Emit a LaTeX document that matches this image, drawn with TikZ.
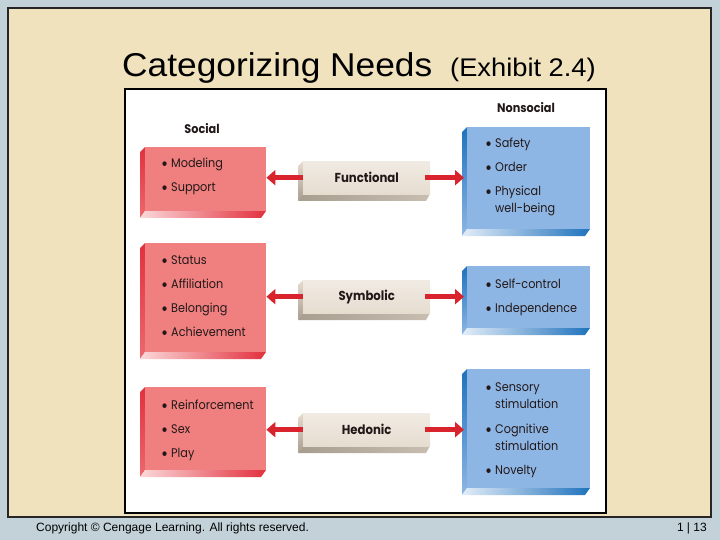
\documentclass[tikz,border=0pt]{standalone}
\usepackage{fontspec}
\setmainfont{Liberation Sans}
\newfontfamily\titlefont[FakeStretch=1.07]{Liberation Sans}
\newfontfamily\fut[FakeStretch=0.9]{Poppins}
\usetikzlibrary{arrows.meta}
\definecolor{bgblue}{HTML}{C3D2D8}
\definecolor{beige}{HTML}{F1E2BE}
\definecolor{redface}{HTML}{F08080}
\definecolor{reddark}{HTML}{E2303E}
\definecolor{blueface}{HTML}{8EB6E4}
\definecolor{bluedark}{HTML}{1F72BC}
\definecolor{midface}{HTML}{E6DDD0}
\definecolor{middark}{HTML}{A89E90}
\definecolor{arrowred}{HTML}{D9232D}
\definecolor{txt}{HTML}{221818}
\newcommand\redbox[5]{%
  \shade[top color=reddark, bottom color=redface!70!reddark] ({#2},{#3+5}) -- ({#2+5},{#3}) -- ({#2+5},{#5-7}) -- ({#2},{#5}) -- cycle;
  \shade[left color=redface!30!white, right color=reddark] ({#2},{#5}) -- ({#2+5},{#5-7}) -- ({#4},{#5-7}) -- ({#4-5},{#5}) -- cycle;
  \node[fill=redface, anchor=north west, inner sep=0, minimum width={#4-#2-5}, minimum height={#5-#3-7}] (#1) at ({#2+5},{#3}) {};}
\newcommand\bluebox[5]{%
  \shade[top color=bluedark, bottom color=blueface] ({#2},{#3+5}) -- ({#2+5},{#3}) -- ({#2+5},{#5-7}) -- ({#2},{#5}) -- cycle;
  \shade[left color=blueface!25!white, right color=bluedark] ({#2},{#5}) -- ({#2+5},{#5-7}) -- ({#4},{#5-7}) -- ({#4-5},{#5}) -- cycle;
  \node[fill=blueface, anchor=north west, inner sep=0, minimum width={#4-#2-5}, minimum height={#5-#3-7}] (#1) at ({#2+5},{#3}) {};}
\newcommand\midbox[6]{%
  \shade[top color=midface, bottom color=middark] ({#2},{#3+5}) -- ({#2+5},{#3}) -- ({#2+5},{#5-7}) -- ({#2},{#5}) -- cycle;
  \shade[left color=middark, right color=midface!50!middark] ({#2},{#5}) -- ({#2+5},{#5-7}) -- ({#4},{#5-7}) -- ({#4-4},{#5}) -- cycle;
  \node[top color=midface!60!white, bottom color=midface, anchor=north west, inner sep=0, minimum width={#4-#2-5}, minimum height={#5-#3-7}, font=\fut\bfseries\fontsize{13}{15}\selectfont, text=txt] (#1) at ({#2+5},{#3}) {#6};}
\tikzset{
  itm/.style={anchor=base west, inner sep=0, font=\fut\fontsize{12.5}{14}\selectfont, text=txt},
  hdr/.style={inner sep=0, font=\fut\bfseries\fontsize{12.5}{14}\selectfont, text=txt},
  redarrow/.style={draw=arrowred, line width=4.5pt, -{Triangle[length=9pt,width=15pt]}},
}
\newcommand\bul{\llap{\fontsize{19}{19}\selectfont\raisebox{-3pt}{•}\hspace{3pt}}}
\begin{document}
\begin{tikzpicture}[x=1pt,y=-1pt]
\useasboundingbox (0,0) rectangle (720,540);
\fill[bgblue] (0,0) rectangle (720,540);
\fill[beige, draw=black!85, line width=1.5pt] (8,8) rectangle (711,517);
\node[anchor=base west, inner sep=0, font=\titlefont\fontsize{33}{36}\selectfont] (title) at (122,77) {Categorizing Needs};
\node[anchor=base west, inner sep=0, font=\titlefont\fontsize{25.5}{28}\selectfont] (exhibit) at (450,77) {(Exhibit 2.4)};
\fill[white, draw=black, line width=2pt] (125,89) rectangle (606,513);
\node[hdr] (social) at (202,129) {Social};
\node[hdr] (nonsocial) at (526,108) {Nonsocial};
% red boxes
\redbox{r1}{140}{147}{266}{218}
\redbox{r2}{140}{243}{266}{359}
\redbox{r3}{140}{387}{266}{477}
% blue boxes
\bluebox{b1}{462}{127}{590}{236}
\bluebox{b2}{462}{266}{590}{335}
\bluebox{b3}{462}{369}{590}{495}
% middle boxes
\midbox{m1}{298}{161}{430}{201}{Functional}
\midbox{m2}{298}{280}{430}{320}{Symbolic}
\midbox{m3}{298}{413}{430}{453}{Hedonic}
% arrows
\draw[redarrow] (m1.west) -- (m1.west -| r1.east);
\draw[redarrow] ([xshift=-5pt]m1.east) -- ([xshift=-3pt]m1.east -| b1.west);
\draw[redarrow] (m2.west) -- (m2.west -| r2.east);
\draw[redarrow] ([xshift=-5pt]m2.east) -- ([xshift=-3pt]m2.east -| b2.west);
\draw[redarrow] (m3.west) -- (m3.west -| r3.east);
\draw[redarrow] ([xshift=-5pt]m3.east) -- ([xshift=-3pt]m3.east -| b3.west);
% red texts
\node[itm] (t1) at (171,168) {\bul Modeling};
\node[itm] (t2) at (171,192) {\bul Support};
\node[itm] (t3) at (171,264) {\bul Status};
\node[itm] (t4) at (171,288) {\bul Affiliation};
\node[itm] (t5) at (171,312) {\bul Belonging};
\node[itm] (t6) at (171,336) {\bul Achievement};
\node[itm] (t7) at (171,409) {\bul Reinforcement};
\node[itm] (t8) at (171,433) {\bul Sex};
\node[itm] (t9) at (171,457) {\bul Play};
% blue texts
\node[itm] (u1) at (495,148) {\bul Safety};
\node[itm] (u2) at (495,172) {\bul Order};
\node[itm] (u3) at (495,196) {\bul Physical};
\node[itm] (u4) at (495,213) {well-being};
\node[itm] (u5) at (495,288) {\bul Self-control};
\node[itm] (u6) at (495,312) {\bul Independence};
\node[itm] (u7) at (495,391) {\bul Sensory};
\node[itm] (u8) at (495,408) {stimulation};
\node[itm] (u9) at (495,433) {\bul Cognitive};
\node[itm] (u10) at (495,450) {stimulation};
\node[itm] (u11) at (495,474) {\bul Novelty};
% footer
\node[anchor=base west, inner sep=0, font=\fontsize{12}{14}\selectfont] (copy) at (36,531) {Copyright © Cengage Learning. All rights reserved.};
\node[anchor=base east, inner sep=0, font=\fontsize{12}{14}\selectfont] (page) at (707,531) {1 | 13};
\end{tikzpicture}
\end{document}
